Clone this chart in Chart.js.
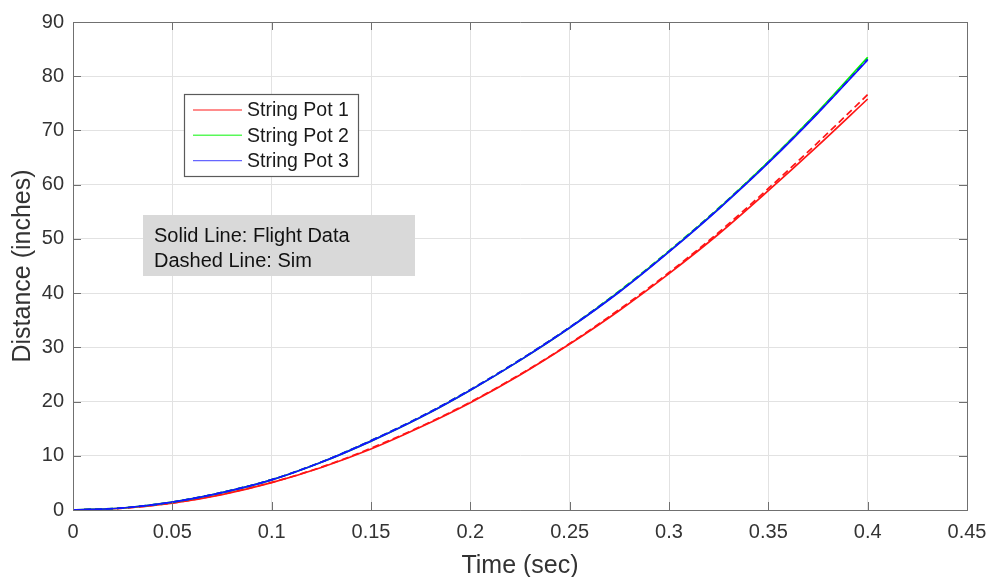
<!DOCTYPE html>
<html><head><meta charset="utf-8">
<script src="https://cdn.jsdelivr.net/npm/chart.js@4.4.0/dist/chart.umd.min.js"></script>
<style>html,body{margin:0;padding:0;background:#fff;}#wrap{width:991px;height:577px;}</style>
</head><body><div id="wrap"><canvas id="c" width="991" height="577"></canvas></div>
<script>
// ---- data ----
const timeSec   = [0, 0.025, 0.05, 0.075, 0.1, 0.125, 0.15, 0.175, 0.2, 0.225, 0.25, 0.275, 0.3, 0.325, 0.35, 0.375, 0.4];
const pot1Flight = [0, 0.32, 1.28, 2.85, 5.05, 7.85, 11.25, 15.3, 19.8, 24.9, 30.6, 36.8, 43.6, 50.9, 58.9, 67.2, 75.8];
const pot2Flight = [0, 0.37, 1.45, 3.2, 5.55, 8.8, 12.7, 17.1, 22.1, 27.6, 33.6, 40.3, 47.7, 55.6, 64.2, 73.5, 83.5];
const pot3Flight = [0, 0.37, 1.45, 3.2, 5.55, 8.8, 12.7, 17.1, 22.1, 27.6, 33.6, 40.2, 47.6, 55.5, 64.0, 73.2, 83.0];
const pot1Sim    = [0, 0.33, 1.3, 2.9, 5.1, 7.9, 11.4, 15.4, 19.9, 25.0, 30.7, 37.0, 43.8, 51.2, 59.3, 67.8, 76.6];
const pot2Sim    = [0, 0.38, 1.47, 3.25, 5.6, 8.85, 12.8, 17.2, 22.2, 27.7, 33.7, 40.4, 47.8, 55.7, 64.2, 73.4, 83.2];
const pot3Sim    = [0, 0.38, 1.47, 3.25, 5.6, 8.85, 12.8, 17.2, 22.2, 27.7, 33.7, 40.3, 47.7, 55.6, 64.1, 73.3, 83.1];
const xTickValues = [0, 0.05, 0.1, 0.15, 0.2, 0.25, 0.3, 0.35, 0.4, 0.45];
const xTickLabels = ['0', '0.05', '0.1', '0.15', '0.2', '0.25', '0.3', '0.35', '0.4', '0.45'];
const yTickValues = [0, 10, 20, 30, 40, 50, 60, 70, 80, 90];
const yTickLabels = ['0', '10', '20', '30', '40', '50', '60', '70', '80', '90'];
const seriesLabels = ['String Pot 1', 'String Pot 2', 'String Pot 3'];
const noteLines = ['Solid Line: Flight Data', 'Dashed Line: Sim'];
const xTitle = 'Time (sec)';
const yTitle = 'Distance (inches)';

const RED = 'rgb(255,20,20)', GREEN = 'rgb(0,245,0)', BLUE = 'rgb(20,20,255)';
const FONT = "'Liberation Sans', Arial, Helvetica, sans-serif";
Chart.defaults.font.family = FONT;

const pts = arr => arr.map((v, i) => ({x: timeSec[i], y: v}));
function ds(label, arr, color, dashed, legend) {
  return {label, data: pts(arr), borderColor: color, backgroundColor: color,
    borderWidth: 1.7, borderDash: dashed ? [7, 4] : [], pointRadius: 0,
    cubicInterpolationMode: 'monotone', fill: false, showInLegend: legend};
}
const datasets = [
  ds(seriesLabels[2], pot3Flight, BLUE, false, true),
  ds(seriesLabels[2] + ' Sim', pot3Sim, BLUE, true, false),
  ds(seriesLabels[1], pot2Flight, GREEN, false, true),
  ds(seriesLabels[1] + ' Sim', pot2Sim, GREEN, true, false),
  ds(seriesLabels[0] + ' Sim', pot1Sim, RED, true, false),
  ds(seriesLabels[0], pot1Flight, RED, false, true),
];

const AXIS = '#707070', GRID = '#e2e2e2', TXT = '#333333';

const framePlugin = {
  id: 'frame',
  afterDatasetsDraw(chart) {
    const {ctx, chartArea: a, scales: {x, y}} = chart;
    ctx.save();
    ctx.strokeStyle = AXIS; ctx.lineWidth = 1;
    ctx.beginPath();
    ctx.rect(Math.round(a.left) + 0.5, Math.round(a.top) + 0.5, Math.round(a.right - a.left), Math.round(a.bottom - a.top));
    ctx.stroke();
    const L = 8;
    ctx.beginPath();
    xTickValues.forEach(v => {
      const px = Math.round(x.getPixelForValue(v)) + 0.5;
      ctx.moveTo(px, a.bottom); ctx.lineTo(px, a.bottom - L);
      ctx.moveTo(px, a.top); ctx.lineTo(px, a.top + L);
    });
    yTickValues.forEach(v => {
      const py = Math.round(y.getPixelForValue(v)) + 0.5;
      ctx.moveTo(a.left, py); ctx.lineTo(a.left + L, py);
      ctx.moveTo(a.right, py); ctx.lineTo(a.right - L, py);
    });
    ctx.stroke();

    // legend box
    ctx.fillStyle = '#ffffff';
    ctx.fillRect(184, 94, 174, 82);
    ctx.strokeStyle = '#5a5a5a'; ctx.lineWidth = 1.2;
    ctx.strokeRect(184.5, 94.5, 174, 82);
    const legendSets = chart.data.datasets.filter(d => d.showInLegend);
    seriesLabels.forEach((lab, i) => {
      const d = legendSets.find(s => s.label === lab);
      const yy = 110 + i * 25.3;
      ctx.strokeStyle = d.borderColor; ctx.lineWidth = 1.4; ctx.globalAlpha = 0.65;
      ctx.beginPath(); ctx.moveTo(193, yy); ctx.lineTo(242, yy); ctx.stroke();
      ctx.globalAlpha = 1;
      ctx.fillStyle = '#1a1a1a'; ctx.font = '19.5px ' + FONT;
      ctx.textBaseline = 'middle'; ctx.textAlign = 'left';
      ctx.fillText(lab, 247, yy + 1);
    });

    // note box
    ctx.fillStyle = '#d9d9d9';
    ctx.fillRect(143, 215, 272, 61);
    ctx.fillStyle = '#111111'; ctx.font = '20px ' + FONT;
    noteLines.forEach((t, i) => ctx.fillText(t, 154, 236 + i * 25));
    ctx.restore();
  }
};

new Chart(document.getElementById('c'), {
  type: 'line',
  data: {datasets},
  options: {
    responsive: false, animation: false, devicePixelRatio: 1,
    layout: {padding: {top: 22, right: 24, left: 0, bottom: 0}},
    plugins: {legend: {display: false}, tooltip: {enabled: false}},
    scales: {
      x: {
        type: 'linear', min: 0, max: 0.45,
        afterBuildTicks: s => { s.ticks = xTickValues.map(v => ({value: v})); },
        afterFit: s => { s.height = 67; s.paddingLeft = 0; s.paddingRight = 0; },
        ticks: {padding: 10, color: TXT, font: {size: 20}, maxRotation: 0, autoSkip: false,
          callback: (v, i) => xTickLabels[i]},
        grid: {color: GRID, drawTicks: false, lineWidth: 1},
        border: {display: true, color: AXIS},
        title: {display: true, text: xTitle, color: TXT, font: {size: 25, lineHeight: 0.85}, padding: {top: 0, bottom: 0}}
      },
      y: {
        type: 'linear', min: 0, max: 90,
        afterBuildTicks: s => { s.ticks = yTickValues.map(v => ({value: v})); },
        afterFit: s => { s.width = 73; },
        ticks: {padding: 9, color: TXT, font: {size: 20}, autoSkip: false,
          callback: (v, i) => yTickLabels[i]},
        grid: {color: GRID, drawTicks: false, lineWidth: 1},
        border: {display: true, color: AXIS},
        title: {display: true, text: yTitle, color: TXT, font: {size: 25, lineHeight: 1}, padding: {top: 11, bottom: 0}}
      }
    }
  },
  plugins: [framePlugin]
});
</script></body></html>
